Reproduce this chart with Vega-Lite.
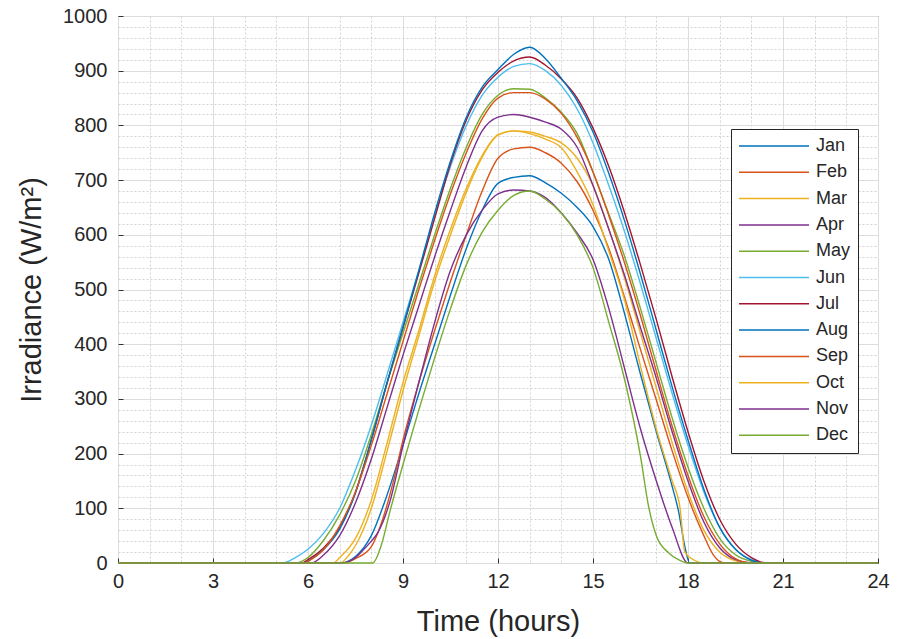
{
  "$schema": "https://vega.github.io/schema/vega-lite/v6.json",
  "width": 760,
  "height": 547,
  "autosize": {"type": "none"},
  "padding": {"left": 118, "top": 16, "right": 20, "bottom": 76},
  "background": "white",
  "config": {
    "view": {"stroke": "#3a3a3a", "strokeWidth": 1},
    "font": "Liberation Sans"
  },
  "data": {"values": [
    {"m":"Jan","t":0,"v":0},{"m":"Jan","t":7,"v":0},{"m":"Jan","t":7.5,"v":12},{"m":"Jan","t":8,"v":50},{"m":"Jan","t":8.5,"v":125},{"m":"Jan","t":9,"v":215},{"m":"Jan","t":9.5,"v":310},{"m":"Jan","t":10,"v":400},{"m":"Jan","t":10.5,"v":490},{"m":"Jan","t":11,"v":575},{"m":"Jan","t":11.5,"v":645},{"m":"Jan","t":12,"v":694},{"m":"Jan","t":12.5,"v":705},{"m":"Jan","t":13,"v":708},{"m":"Jan","t":13.5,"v":695},{"m":"Jan","t":14,"v":676},{"m":"Jan","t":14.5,"v":650},{"m":"Jan","t":15,"v":615},{"m":"Jan","t":15.5,"v":555},{"m":"Jan","t":16,"v":455},{"m":"Jan","t":16.5,"v":345},{"m":"Jan","t":17,"v":240},{"m":"Jan","t":17.5,"v":140},{"m":"Jan","t":17.7,"v":95},{"m":"Jan","t":17.9,"v":30},{"m":"Jan","t":18.05,"v":0},{"m":"Jan","t":24,"v":0},
    {"m":"Feb","t":0,"v":0},{"m":"Feb","t":7.1,"v":0},{"m":"Feb","t":7.5,"v":8},{"m":"Feb","t":8,"v":30},{"m":"Feb","t":8.3,"v":70},{"m":"Feb","t":8.7,"v":150},{"m":"Feb","t":9,"v":225},{"m":"Feb","t":9.5,"v":330},{"m":"Feb","t":10,"v":425},{"m":"Feb","t":10.5,"v":515},{"m":"Feb","t":11,"v":600},{"m":"Feb","t":11.5,"v":680},{"m":"Feb","t":12,"v":740},{"m":"Feb","t":12.5,"v":757},{"m":"Feb","t":13,"v":760},{"m":"Feb","t":13.5,"v":750},{"m":"Feb","t":14,"v":731},{"m":"Feb","t":14.5,"v":697},{"m":"Feb","t":15,"v":645},{"m":"Feb","t":15.5,"v":575},{"m":"Feb","t":16,"v":485},{"m":"Feb","t":16.5,"v":390},{"m":"Feb","t":17,"v":298},{"m":"Feb","t":17.5,"v":205},{"m":"Feb","t":18,"v":120},{"m":"Feb","t":18.5,"v":50},{"m":"Feb","t":18.8,"v":15},{"m":"Feb","t":19,"v":3},{"m":"Feb","t":19.2,"v":0},{"m":"Feb","t":24,"v":0},
    {"m":"Mar","t":0,"v":0},{"m":"Mar","t":6.8,"v":0},{"m":"Mar","t":7,"v":10},{"m":"Mar","t":7.5,"v":45},{"m":"Mar","t":8,"v":115},{"m":"Mar","t":8.5,"v":220},{"m":"Mar","t":9,"v":330},{"m":"Mar","t":9.5,"v":425},{"m":"Mar","t":10,"v":525},{"m":"Mar","t":10.5,"v":610},{"m":"Mar","t":11,"v":685},{"m":"Mar","t":11.5,"v":745},{"m":"Mar","t":12,"v":783},{"m":"Mar","t":12.5,"v":790},{"m":"Mar","t":13,"v":788},{"m":"Mar","t":13.5,"v":780},{"m":"Mar","t":14,"v":768},{"m":"Mar","t":14.5,"v":740},{"m":"Mar","t":15,"v":690},{"m":"Mar","t":15.5,"v":610},{"m":"Mar","t":16,"v":520},{"m":"Mar","t":16.5,"v":420},{"m":"Mar","t":17,"v":320},{"m":"Mar","t":17.5,"v":220},{"m":"Mar","t":18,"v":130},{"m":"Mar","t":18.5,"v":60},{"m":"Mar","t":19,"v":20},{"m":"Mar","t":19.5,"v":4},{"m":"Mar","t":20,"v":0},{"m":"Mar","t":24,"v":0},
    {"m":"Apr","t":0,"v":0},{"m":"Apr","t":6.1,"v":0},{"m":"Apr","t":6.5,"v":15},{"m":"Apr","t":7,"v":50},{"m":"Apr","t":7.5,"v":110},{"m":"Apr","t":8,"v":190},{"m":"Apr","t":8.5,"v":285},{"m":"Apr","t":9,"v":380},{"m":"Apr","t":9.5,"v":470},{"m":"Apr","t":10,"v":560},{"m":"Apr","t":10.5,"v":645},{"m":"Apr","t":11,"v":725},{"m":"Apr","t":11.5,"v":790},{"m":"Apr","t":12,"v":815},{"m":"Apr","t":12.5,"v":820},{"m":"Apr","t":13,"v":815},{"m":"Apr","t":13.5,"v":806},{"m":"Apr","t":14,"v":793},{"m":"Apr","t":14.5,"v":760},{"m":"Apr","t":15,"v":690},{"m":"Apr","t":15.5,"v":610},{"m":"Apr","t":16,"v":525},{"m":"Apr","t":16.5,"v":430},{"m":"Apr","t":17,"v":338},{"m":"Apr","t":17.5,"v":240},{"m":"Apr","t":18,"v":150},{"m":"Apr","t":18.5,"v":75},{"m":"Apr","t":19,"v":28},{"m":"Apr","t":19.5,"v":6},{"m":"Apr","t":20,"v":0},{"m":"Apr","t":24,"v":0},
    {"m":"May","t":0,"v":0},{"m":"May","t":5.6,"v":0},{"m":"May","t":6,"v":10},{"m":"May","t":6.5,"v":42},{"m":"May","t":7,"v":88},{"m":"May","t":7.5,"v":150},{"m":"May","t":8,"v":235},{"m":"May","t":8.5,"v":330},{"m":"May","t":9,"v":420},{"m":"May","t":9.5,"v":510},{"m":"May","t":10,"v":600},{"m":"May","t":10.5,"v":685},{"m":"May","t":11,"v":760},{"m":"May","t":11.5,"v":820},{"m":"May","t":12,"v":855},{"m":"May","t":12.5,"v":867},{"m":"May","t":13,"v":866},{"m":"May","t":13.5,"v":850},{"m":"May","t":14,"v":824},{"m":"May","t":14.5,"v":785},{"m":"May","t":15,"v":715},{"m":"May","t":15.5,"v":638},{"m":"May","t":16,"v":560},{"m":"May","t":16.5,"v":465},{"m":"May","t":17,"v":365},{"m":"May","t":17.5,"v":265},{"m":"May","t":18,"v":175},{"m":"May","t":18.5,"v":100},{"m":"May","t":19,"v":45},{"m":"May","t":19.5,"v":15},{"m":"May","t":20,"v":3},{"m":"May","t":20.4,"v":0},{"m":"May","t":24,"v":0},
    {"m":"Jun","t":0,"v":0},{"m":"Jun","t":5.2,"v":0},{"m":"Jun","t":5.6,"v":10},{"m":"Jun","t":6,"v":25},{"m":"Jun","t":6.5,"v":55},{"m":"Jun","t":7,"v":100},{"m":"Jun","t":7.5,"v":170},{"m":"Jun","t":8,"v":252},{"m":"Jun","t":8.5,"v":345},{"m":"Jun","t":9,"v":440},{"m":"Jun","t":9.5,"v":535},{"m":"Jun","t":10,"v":635},{"m":"Jun","t":10.5,"v":725},{"m":"Jun","t":11,"v":800},{"m":"Jun","t":11.5,"v":855},{"m":"Jun","t":12,"v":888},{"m":"Jun","t":12.5,"v":908},{"m":"Jun","t":13,"v":913},{"m":"Jun","t":13.5,"v":900},{"m":"Jun","t":14,"v":873},{"m":"Jun","t":14.5,"v":830},{"m":"Jun","t":15,"v":768},{"m":"Jun","t":15.5,"v":690},{"m":"Jun","t":16,"v":605},{"m":"Jun","t":16.5,"v":510},{"m":"Jun","t":17,"v":410},{"m":"Jun","t":17.5,"v":310},{"m":"Jun","t":18,"v":215},{"m":"Jun","t":18.5,"v":130},{"m":"Jun","t":19,"v":65},{"m":"Jun","t":19.5,"v":25},{"m":"Jun","t":20,"v":6},{"m":"Jun","t":20.5,"v":0},{"m":"Jun","t":24,"v":0},
    {"m":"Jul","t":0,"v":0},{"m":"Jul","t":5.8,"v":0},{"m":"Jul","t":6,"v":6},{"m":"Jul","t":6.5,"v":28},{"m":"Jul","t":7,"v":65},{"m":"Jul","t":7.5,"v":130},{"m":"Jul","t":8,"v":225},{"m":"Jul","t":8.5,"v":330},{"m":"Jul","t":9,"v":430},{"m":"Jul","t":9.5,"v":530},{"m":"Jul","t":10,"v":630},{"m":"Jul","t":10.5,"v":730},{"m":"Jul","t":11,"v":810},{"m":"Jul","t":11.5,"v":865},{"m":"Jul","t":12,"v":897},{"m":"Jul","t":12.5,"v":918},{"m":"Jul","t":13,"v":925},{"m":"Jul","t":13.5,"v":910},{"m":"Jul","t":14,"v":885},{"m":"Jul","t":14.5,"v":850},{"m":"Jul","t":15,"v":795},{"m":"Jul","t":15.5,"v":725},{"m":"Jul","t":16,"v":640},{"m":"Jul","t":16.5,"v":545},{"m":"Jul","t":17,"v":445},{"m":"Jul","t":17.5,"v":340},{"m":"Jul","t":18,"v":240},{"m":"Jul","t":18.5,"v":150},{"m":"Jul","t":19,"v":80},{"m":"Jul","t":19.5,"v":35},{"m":"Jul","t":20,"v":10},{"m":"Jul","t":20.5,"v":0},{"m":"Jul","t":24,"v":0},
    {"m":"Aug","t":0,"v":0},{"m":"Aug","t":5.9,"v":0},{"m":"Aug","t":6,"v":3},{"m":"Aug","t":6.5,"v":25},{"m":"Aug","t":7,"v":62},{"m":"Aug","t":7.5,"v":128},{"m":"Aug","t":8,"v":225},{"m":"Aug","t":8.5,"v":330},{"m":"Aug","t":9,"v":432},{"m":"Aug","t":9.5,"v":535},{"m":"Aug","t":10,"v":640},{"m":"Aug","t":10.5,"v":735},{"m":"Aug","t":11,"v":815},{"m":"Aug","t":11.5,"v":870},{"m":"Aug","t":12,"v":902},{"m":"Aug","t":12.5,"v":930},{"m":"Aug","t":13,"v":943},{"m":"Aug","t":13.5,"v":922},{"m":"Aug","t":14,"v":886},{"m":"Aug","t":14.5,"v":845},{"m":"Aug","t":15,"v":788},{"m":"Aug","t":15.5,"v":712},{"m":"Aug","t":16,"v":625},{"m":"Aug","t":16.5,"v":528},{"m":"Aug","t":17,"v":425},{"m":"Aug","t":17.5,"v":322},{"m":"Aug","t":18,"v":225},{"m":"Aug","t":18.5,"v":135},{"m":"Aug","t":19,"v":65},{"m":"Aug","t":19.5,"v":25},{"m":"Aug","t":20,"v":5},{"m":"Aug","t":20.4,"v":0},{"m":"Aug","t":24,"v":0},
    {"m":"Sep","t":0,"v":0},{"m":"Sep","t":5.9,"v":0},{"m":"Sep","t":6,"v":3},{"m":"Sep","t":6.5,"v":25},{"m":"Sep","t":7,"v":68},{"m":"Sep","t":7.5,"v":130},{"m":"Sep","t":8,"v":215},{"m":"Sep","t":8.5,"v":310},{"m":"Sep","t":9,"v":405},{"m":"Sep","t":9.5,"v":500},{"m":"Sep","t":10,"v":590},{"m":"Sep","t":10.5,"v":675},{"m":"Sep","t":11,"v":750},{"m":"Sep","t":11.5,"v":812},{"m":"Sep","t":12,"v":850},{"m":"Sep","t":12.5,"v":860},{"m":"Sep","t":13,"v":860},{"m":"Sep","t":13.5,"v":848},{"m":"Sep","t":14,"v":822},{"m":"Sep","t":14.5,"v":778},{"m":"Sep","t":15,"v":715},{"m":"Sep","t":15.5,"v":635},{"m":"Sep","t":16,"v":548},{"m":"Sep","t":16.5,"v":452},{"m":"Sep","t":17,"v":350},{"m":"Sep","t":17.5,"v":250},{"m":"Sep","t":18,"v":160},{"m":"Sep","t":18.5,"v":85},{"m":"Sep","t":19,"v":35},{"m":"Sep","t":19.5,"v":8},{"m":"Sep","t":20,"v":0},{"m":"Sep","t":24,"v":0},
    {"m":"Oct","t":0,"v":0},{"m":"Oct","t":7,"v":0},{"m":"Oct","t":7.3,"v":15},{"m":"Oct","t":7.5,"v":32},{"m":"Oct","t":8,"v":100},{"m":"Oct","t":8.5,"v":205},{"m":"Oct","t":9,"v":315},{"m":"Oct","t":9.5,"v":415},{"m":"Oct","t":10,"v":515},{"m":"Oct","t":10.5,"v":600},{"m":"Oct","t":11,"v":678},{"m":"Oct","t":11.5,"v":742},{"m":"Oct","t":12,"v":782},{"m":"Oct","t":12.5,"v":790},{"m":"Oct","t":13,"v":785},{"m":"Oct","t":13.5,"v":775},{"m":"Oct","t":14,"v":759},{"m":"Oct","t":14.5,"v":715},{"m":"Oct","t":15,"v":655},{"m":"Oct","t":15.5,"v":570},{"m":"Oct","t":16,"v":480},{"m":"Oct","t":16.5,"v":360},{"m":"Oct","t":17,"v":245},{"m":"Oct","t":17.5,"v":150},{"m":"Oct","t":17.75,"v":100},{"m":"Oct","t":17.9,"v":20},{"m":"Oct","t":18.2,"v":5},{"m":"Oct","t":18.5,"v":0},{"m":"Oct","t":24,"v":0},
    {"m":"Nov","t":0,"v":0},{"m":"Nov","t":7.1,"v":0},{"m":"Nov","t":7.5,"v":10},{"m":"Nov","t":7.75,"v":24},{"m":"Nov","t":8,"v":40},{"m":"Nov","t":8.2,"v":55},{"m":"Nov","t":8.6,"v":115},{"m":"Nov","t":9,"v":215},{"m":"Nov","t":9.5,"v":330},{"m":"Nov","t":10,"v":440},{"m":"Nov","t":10.5,"v":535},{"m":"Nov","t":11,"v":600},{"m":"Nov","t":11.5,"v":645},{"m":"Nov","t":12,"v":675},{"m":"Nov","t":12.5,"v":682},{"m":"Nov","t":13,"v":680},{"m":"Nov","t":13.5,"v":668},{"m":"Nov","t":14,"v":640},{"m":"Nov","t":14.5,"v":603},{"m":"Nov","t":15,"v":555},{"m":"Nov","t":15.5,"v":465},{"m":"Nov","t":16,"v":355},{"m":"Nov","t":16.5,"v":245},{"m":"Nov","t":17,"v":150},{"m":"Nov","t":17.5,"v":65},{"m":"Nov","t":18,"v":0},{"m":"Nov","t":24,"v":0},
    {"m":"Dec","t":0,"v":0},{"m":"Dec","t":8.05,"v":0},{"m":"Dec","t":8.3,"v":30},{"m":"Dec","t":8.6,"v":97},{"m":"Dec","t":9,"v":180},{"m":"Dec","t":9.5,"v":280},{"m":"Dec","t":10,"v":375},{"m":"Dec","t":10.5,"v":465},{"m":"Dec","t":11,"v":545},{"m":"Dec","t":11.5,"v":605},{"m":"Dec","t":12,"v":645},{"m":"Dec","t":12.5,"v":672},{"m":"Dec","t":13,"v":680},{"m":"Dec","t":13.5,"v":665},{"m":"Dec","t":14,"v":640},{"m":"Dec","t":14.5,"v":600},{"m":"Dec","t":15,"v":540},{"m":"Dec","t":15.5,"v":440},{"m":"Dec","t":16,"v":335},{"m":"Dec","t":16.5,"v":195},{"m":"Dec","t":16.75,"v":105},{"m":"Dec","t":17,"v":50},{"m":"Dec","t":17.4,"v":18},{"m":"Dec","t":17.7,"v":6},{"m":"Dec","t":18,"v":0},{"m":"Dec","t":24,"v":0}
  ]},
  "mark": {"type": "line", "interpolate": "monotone", "strokeWidth": 1.4},
  "encoding": {
    "x": {
      "field": "t", "type": "quantitative",
      "scale": {"domain": [0, 24], "nice": false, "zero": false},
      "axis": {
        "title": "Time (hours)",
        "titleFontSize": 29, "titleFontWeight": "normal", "titleColor": "#262626", "titlePadding": 16,
        "values": [0,0.5,1,1.5,2,2.5,3,3.5,4,4.5,5,5.5,6,6.5,7,7.5,8,8.5,9,9.5,10,10.5,11,11.5,12,12.5,13,13.5,14,14.5,15,15.5,16,16.5,17,17.5,18,18.5,19,19.5,20,20.5,21,21.5,22,22.5,23,23.5,24],
        "format": "d",
        "labelExpr": "datum.value % 3 === 0 ? datum.label : ''",
        "labelFontSize": 20, "labelColor": "#262626", "labelPadding": 13,
        "labelOverlap": false, "labelFlush": false, "labelBound": false,
        "domain": false,
        "ticks": true, "tickSize": -5,
        "tickColor": {"condition": {"test": "datum.value % 3 === 0", "value": "#333333"}, "value": "rgba(0,0,0,0)"},
        "grid": true,
        "gridColor": {"condition": {"test": "datum.value % 3 === 0", "value": "#dddddd"}, "value": "#d2d2d2"},
        "gridDash": {"condition": {"test": "datum.value % 3 === 0", "value": []}, "value": [2, 2]},
        "gridWidth": 1
      }
    },
    "y": {
      "field": "v", "type": "quantitative",
      "scale": {"domain": [0, 1000], "nice": false},
      "axis": {
        "title": "Irradiance (W/m²)",
        "titleFontSize": 29, "titleFontWeight": "normal", "titleColor": "#262626", "titlePadding": 16,
        "values": [0,20,40,60,80,100,120,140,160,180,200,220,240,260,280,300,320,340,360,380,400,420,440,460,480,500,520,540,560,580,600,620,640,660,680,700,720,740,760,780,800,820,840,860,880,900,920,940,960,980,1000],
        "format": "d",
        "labelExpr": "datum.value % 100 === 0 ? datum.label : ''",
        "labelFontSize": 20, "labelColor": "#262626", "labelPadding": 16,
        "labelOverlap": false, "labelFlush": false, "labelBound": false,
        "domain": false,
        "ticks": true, "tickSize": -5,
        "tickColor": {"condition": {"test": "datum.value % 100 === 0", "value": "#333333"}, "value": "rgba(0,0,0,0)"},
        "grid": true,
        "gridColor": {"condition": {"test": "datum.value % 100 === 0", "value": "#dddddd"}, "value": "#d2d2d2"},
        "gridDash": {"condition": {"test": "datum.value % 100 === 0", "value": []}, "value": [2, 2]},
        "gridWidth": 1
      }
    },
    "color": {
      "field": "m", "type": "nominal",
      "scale": {
        "domain": ["Jan","Feb","Mar","Apr","May","Jun","Jul","Aug","Sep","Oct","Nov","Dec"],
        "range": ["#0072BD","#D95319","#EDB120","#7E2F8E","#77AC30","#4DBEEE","#A2142F","#0072BD","#D95319","#EDB120","#7E2F8E","#77AC30"]
      },
      "legend": {
        "title": null,
        "orient": "none",
        "legendX": 613,
        "legendY": 113,
        "direction": "vertical",
        "symbolType": "stroke",
        "symbolSize": 4900,
        "symbolStrokeWidth": 1.5,
        "clipHeight": 20,
        "rowPadding": 6.3,
        "labelFontSize": 18,
        "labelColor": "#262626",
        "labelOffset": 6,
        "padding": 7,
        "strokeColor": "#262626",
        "fillColor": "white",
        "labelLimit": 120
      }
    }
  }
}
